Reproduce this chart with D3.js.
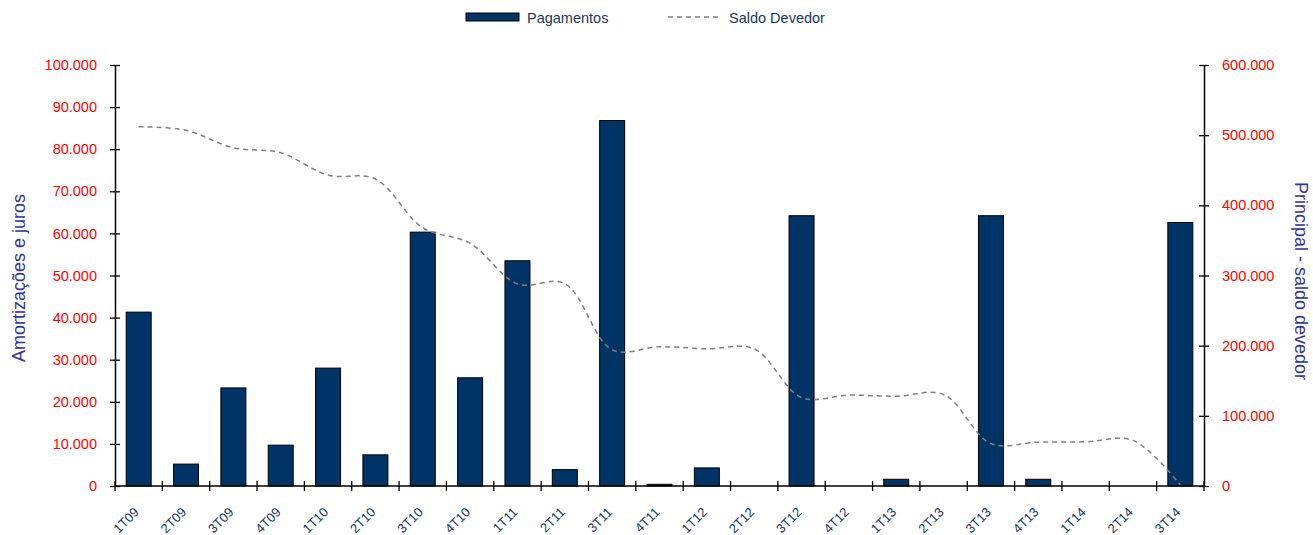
<!DOCTYPE html>
<html><head><meta charset="utf-8">
<script src="https://cdn.jsdelivr.net/npm/d3@7/dist/d3.min.js"></script>
<style>body{margin:0;background:#fff;}svg{display:block;font-family:"Liberation Sans",Arial,sans-serif;}</style>
</head><body><svg id="c" width="1313" height="535"></svg>
<script>
const categories = ["1T09","2T09","3T09","4T09","1T10","2T10","3T10","4T10","1T11","2T11","3T11","4T11","1T12","2T12","3T12","4T12","1T13","2T13","3T13","4T13","1T14","2T14","3T14"];
const pagamentos = [41300,5200,23300,9700,28000,7400,60300,25700,53500,3900,86800,400,4300,0,64200,0,1600,0,64200,1600,0,0,62600];
const saldoDevedor = [512000,507000,482000,475000,443000,437500,368000,346000,288000,288500,194000,198500,195500,195500,126000,129500,128000,130500,60500,62500,63000,65000,1500];
const leftTicks = [0,10000,20000,30000,40000,50000,60000,70000,80000,90000,100000];
const rightTicks = [0,100000,200000,300000,400000,500000,600000];

const svg = d3.select("#c");
const L = 115, R = 1204, T = 65, B = 486;
const fmt = v => v === 0 ? "0" : d3.format(",")(v).replace(/,/g, ".");

const xb = d3.scaleBand().domain(categories).range([L, R]);
const yL = d3.scaleLinear().domain([0, 100000]).range([B, T]);
const yR = d3.scaleLinear().domain([0, 600000]).range([B, T]);

// bars
svg.append("g").selectAll("rect").data(categories).join("rect")
  .attr("x", d => xb(d) + xb.bandwidth()/2 - 12.5)
  .attr("width", 25)
  .attr("y", (d,i) => yL(pagamentos[i]))
  .attr("height", (d,i) => B - yL(pagamentos[i]))
  .attr("fill", "#003366").attr("stroke", "#000").attr("stroke-width", 1)
  .style("display", (d,i) => pagamentos[i] > 0 ? null : "none");

// line
const line = d3.line()
  .x((d,i) => xb(categories[i]) + xb.bandwidth()/2)
  .y(d => yR(d))
  .curve(d3.curveCatmullRom.alpha(0.5));
svg.append("path").datum(saldoDevedor).attr("d", line)
  .attr("fill", "none").attr("stroke", "#808080").attr("stroke-width", 1.5)
  .attr("stroke-dasharray", "5,4");

const tickFont = '"Liberation Sans",Arial,sans-serif';
// left axis
const gl = svg.append("g").attr("transform", `translate(${L},0)`)
  .call(d3.axisLeft(yL).tickValues(leftTicks).tickFormat(fmt).tickSizeInner(5).tickSizeOuter(0).tickPadding(13));
gl.selectAll(".tick line").attr("x2", 5).attr("x1", -5).attr("stroke", "#000").attr("stroke-width", 1.3);
gl.select(".domain").attr("stroke", "#000").attr("stroke-width", 1.5);
gl.selectAll("text").attr("fill", "#ff0000").style("font-size", "14.5px").style("font-family", tickFont);

// right axis
const gr = svg.append("g").attr("transform", `translate(${R},0)`)
  .call(d3.axisRight(yR).tickValues(rightTicks).tickFormat(fmt).tickSizeInner(5).tickSizeOuter(0).tickPadding(13));
gr.selectAll(".tick line").attr("x2", 5).attr("x1", -5).attr("stroke", "#000").attr("stroke-width", 1.3);
gr.select(".domain").attr("stroke", "#000").attr("stroke-width", 1.5);
gr.selectAll("text").attr("fill", "#ff0000").style("font-size", "14.5px").style("font-family", tickFont);

// x axis
const bounds = categories.map(c => xb(c)).concat([R]);
svg.append("line").attr("x1", L).attr("x2", R).attr("y1", B).attr("y2", B).attr("stroke", "#000").attr("stroke-width", 1.5);
svg.append("g").selectAll("line").data(bounds).join("line")
  .attr("x1", d => d).attr("x2", d => d).attr("y1", B - 5).attr("y2", B + 5)
  .attr("stroke", "#000").attr("stroke-width", 1.3);
svg.append("g").selectAll("text").data(categories).join("text")
  .attr("transform", d => `translate(${xb(d) + xb.bandwidth()/2 + 1},${B + 27}) rotate(-45)`)
  .attr("text-anchor", "end")
  .attr("fill", "#17375e").style("font-size", "13px")
  .text(d => d);

// axis titles
svg.append("text").attr("transform", `translate(25,278) rotate(-90)`).attr("text-anchor", "middle")
  .attr("fill", "#333399").style("font-size", "18px").text("Amortizações e juros");
svg.append("text").attr("transform", `translate(1295,281) rotate(90)`).attr("text-anchor", "middle")
  .attr("fill", "#333399").style("font-size", "18px").text("Principal - saldo devedor");

// legend
const lg = svg.append("g");
lg.append("rect").attr("x", 466).attr("y", 13).attr("width", 53).attr("height", 8)
  .attr("fill", "#003366").attr("stroke", "#000").attr("stroke-width", 1);
lg.append("text").attr("x", 527).attr("y", 23).attr("fill", "#17375e").style("font-size", "14.5px").text("Pagamentos");
lg.append("line").attr("x1", 668).attr("x2", 720).attr("y1", 17).attr("y2", 17)
  .attr("stroke", "#808080").attr("stroke-width", 1.5).attr("stroke-dasharray", "5,4");
lg.append("text").attr("x", 729).attr("y", 23).attr("fill", "#17375e").style("font-size", "14.5px").text("Saldo Devedor");
</script></body></html>
